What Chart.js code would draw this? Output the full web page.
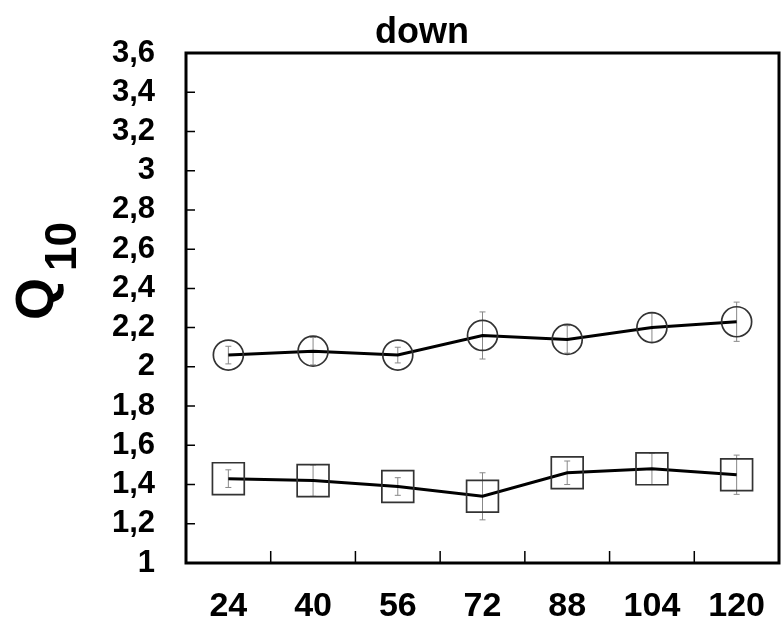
<!DOCTYPE html>
<html>
<head>
<meta charset="utf-8">
<script src="https://cdn.jsdelivr.net/npm/chart.js@4.4.1/dist/chart.umd.min.js"></script>
<style>
  html, body { margin: 0; padding: 0; background: #fff; }
  #wrap { width: 781px; height: 623px; }
</style>
</head>
<body>
<div id="wrap"><canvas id="myChart" width="781" height="623"></canvas></div>
<script>
// categories (x axis)
const hours = ['24', '40', '56', '72', '88', '104', '120'];

// Q10 values
const circleQ10 = [2.06, 2.08, 2.06, 2.16, 2.14, 2.20, 2.23];
const circleErr = [0.045, 0.07, 0.04, 0.12, 0.07, 0.075, 0.10];
const squareQ10 = [1.43, 1.42, 1.39, 1.34, 1.46, 1.48, 1.45];
const squareErr = [0.045, 0.08, 0.045, 0.12, 0.06, 0.08, 0.10];

// y tick labels (comma decimals)
const yTickLabels = ['1', '1,2', '1,4', '1,6', '1,8', '2', '2,2', '2,4', '2,6', '2,8', '3', '3,2', '3,4', '3,6'];

const fontFamily = '"Liberation Sans", Arial, sans-serif';

// error bars, inward ticks, frame, title and y title
const decorations = {
  id: 'decorations',
  beforeDatasetsDraw(chart) {
    const ctx = chart.ctx;
    const x = chart.scales.x, y = chart.scales.y;
    ctx.save();
    ctx.strokeStyle = '#888';
    ctx.lineWidth = 1;
    [[circleQ10, circleErr], [squareQ10, squareErr]].forEach(([vals, errs]) => {
      vals.forEach((v, i) => {
        const px = x.getPixelForValue(i);
        const top = y.getPixelForValue(v + errs[i]);
        const bot = y.getPixelForValue(v - errs[i]);
        ctx.beginPath();
        ctx.moveTo(px, top); ctx.lineTo(px, bot);
        ctx.moveTo(px - 3, top); ctx.lineTo(px + 3, top);
        ctx.moveTo(px - 3, bot); ctx.lineTo(px + 3, bot);
        ctx.stroke();
      });
    });
    ctx.restore();
  },
  afterDraw(chart) {
    const ctx = chart.ctx;
    const a = chart.chartArea;
    const x = chart.scales.x, y = chart.scales.y;
    ctx.save();
    // inward ticks
    ctx.strokeStyle = '#000';
    ctx.lineWidth = 1.5;
    ctx.beginPath();
    for (let i = 1; i < yTickLabels.length - 1; i++) {
      const py = y.getPixelForValue(1 + i * 0.2);
      ctx.moveTo(a.left, py); ctx.lineTo(a.left + 9, py);
    }
    for (let i = 1; i < hours.length; i++) {
      const px = (x.getPixelForValue(i - 1) + x.getPixelForValue(i)) / 2;
      ctx.moveTo(px, a.bottom); ctx.lineTo(px, a.bottom - 12);
    }
    ctx.stroke();
    // frame
    ctx.lineWidth = 3;
    ctx.strokeRect(a.left, a.top, a.right - a.left, a.bottom - a.top);
    // title
    ctx.fillStyle = '#000';
    ctx.font = 'bold 36px ' + fontFamily;
    ctx.textAlign = 'center';
    ctx.textBaseline = 'alphabetic';
    ctx.fillText('down', 422, 43);
    // y title Q10
    ctx.translate(53, 268);
    ctx.rotate(-Math.PI / 2);
    ctx.textAlign = 'left';
    ctx.font = 'bold 54px ' + fontFamily;
    ctx.fillText('Q', -52, 0);
    ctx.font = 'bold 44px ' + fontFamily;
    ctx.fillText('10', -3, 23);
    ctx.restore();
  }
};

new Chart(document.getElementById('myChart'), {
  type: 'line',
  data: {
    labels: hours,
    datasets: [{
      label: 'circles',
      data: circleQ10,
      borderColor: '#000',
      borderWidth: 3,
      pointStyle: 'circle',
      pointRadius: 15,
      pointBorderColor: '#333',
      pointBorderWidth: 1.7,
      pointBackgroundColor: 'rgba(0,0,0,0)',
      tension: 0
    }, {
      label: 'squares',
      data: squareQ10,
      borderColor: '#000',
      borderWidth: 3,
      pointStyle: 'rect',
      pointRadius: 22.5,
      pointBorderColor: '#333',
      pointBorderWidth: 1.7,
      pointBackgroundColor: 'rgba(0,0,0,0)',
      tension: 0
    }]
  },
  options: {
    responsive: false,
    animation: false,
    layout: { autoPadding: false, padding: { left: 0, right: 2, top: 53, bottom: 0 } },
    plugins: {
      legend: { display: false },
      title: { display: false },
      tooltip: { enabled: false }
    },
    scales: {
      x: {
        offset: true,
        grid: { display: false, drawTicks: false },
        border: { display: false },
        ticks: {
          color: '#000',
          padding: 23,
          font: { family: fontFamily, size: 34, weight: 'bold' },
          maxRotation: 0,
          autoSkip: false
        },
        afterFit(scale) {
          scale.height = 60;
          scale.paddingLeft = 0;
          scale.paddingRight = 0;
        }
      },
      y: {
        min: 1,
        max: 3.6,
        grid: { display: false, drawTicks: false },
        border: { display: false },
        ticks: {
          stepSize: 0.2,
          autoSkip: false,
          color: '#000',
          padding: 31,
          font: { family: fontFamily, size: 31, weight: 'bold' },
          callback: (v) => yTickLabels[Math.round((v - 1) / 0.2)]
        },
        afterFit(scale) {
          scale.width = 186;
          scale.paddingTop = 0;
          scale.paddingBottom = 0;
        }
      }
    }
  },
  plugins: [decorations]
});
</script>
</body>
</html>
